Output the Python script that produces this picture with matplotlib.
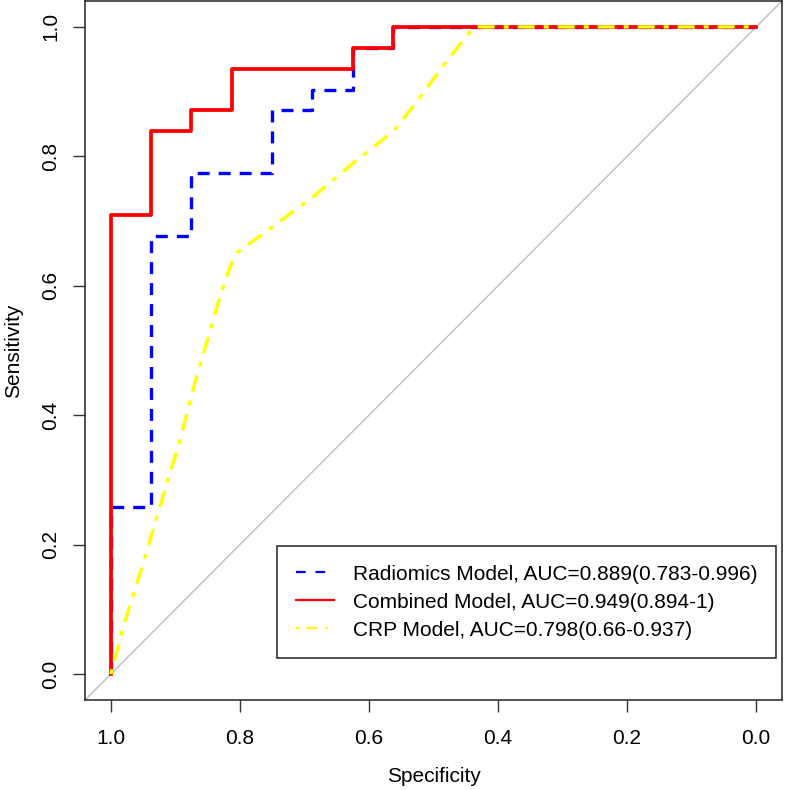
import numpy as np
import matplotlib
matplotlib.use("Agg")
import matplotlib.pyplot as plt
from matplotlib.lines import Line2D

plt.rcParams['font.family'] = ['Liberation Sans', 'DejaVu Sans']
plt.rcParams['font.size'] = 15
plt.rcParams['lines.scale_dashes'] = False

# ROC coordinates (specificity, sensitivity)
radiomics_spec = [1.0, 1.0, 0.9375, 0.9375, 0.875, 0.875, 0.75, 0.75,
                  0.6875, 0.6875, 0.625, 0.625, 0.5625, 0.5625, 0.0]
radiomics_sens = [0.0, 0.258, 0.258, 0.677, 0.677, 0.774, 0.774, 0.871,
                  0.871, 0.903, 0.903, 0.968, 0.968, 1.0, 1.0]

combined_spec = [1.0, 1.0, 0.9375, 0.9375, 0.875, 0.875, 0.8125, 0.8125,
                 0.625, 0.625, 0.5625, 0.5625, 0.0]
combined_sens = [0.0, 0.710, 0.710, 0.839, 0.839, 0.871, 0.871, 0.935,
                 0.935, 0.968, 0.968, 1.0, 1.0]

crp_spec = [1.0, 0.981, 0.952, 0.929, 0.893, 0.870, 0.849, 0.831, 0.815,
            0.805, 0.748, 0.686, 0.624, 0.562, 0.531, 0.485, 0.4375, 0.0]
crp_sens = [0.0, 0.072, 0.165, 0.242, 0.361, 0.449, 0.521, 0.583, 0.630,
            0.651, 0.692, 0.738, 0.790, 0.839, 0.878, 0.940, 1.0, 1.0]

labels = ["Radiomics Model, AUC=0.889(0.783-0.996)",
          "Combined Model, AUC=0.949(0.894-1)",
          "CRP Model, AUC=0.798(0.66-0.937)"]
ticks = [0.0, 0.2, 0.4, 0.6, 0.8, 1.0]

blue_dash = (8.6, 6.5)
yellow_dash = (3.6, 6.5, 12.2, 6.5)

fig = plt.figure(figsize=(7.87, 7.90), dpi=100)
ax = fig.add_axes([85 / 787, 90 / 790, 697 / 787, 699 / 790])

ax.axline((1, 0), (0, 1), color='#BEBEBE', lw=1.0, zorder=1)
ax.plot(radiomics_spec, radiomics_sens, color='#0000FF', lw=2.4,
        dashes=blue_dash, zorder=2)
ax.plot(combined_spec, combined_sens, color='#FF0000', lw=2.7, zorder=3)
ax.plot(crp_spec, crp_sens, color='#FFFF00', lw=2.4,
        dashes=yellow_dash, zorder=4)

ax.set_xlim(1.04, -0.04)
ax.set_ylim(-0.04, 1.04)
ax.set_xticks(ticks)
ax.set_yticks(ticks)
ax.set_xticklabels([f"{t:.1f}" for t in ticks])
ax.set_yticklabels([f"{t:.1f}" for t in ticks], rotation=90, va='center')
ax.tick_params(axis='both', length=8.6, width=1.0, color='#333333')
ax.tick_params(axis='x', pad=12)
ax.tick_params(axis='y', pad=9)
for sp in ax.spines.values():
    sp.set_linewidth(1.1)
    sp.set_color('#222222')

ax.set_xlabel("Specificity", va='center')
ax.xaxis.set_label_coords(0.5, -0.110)
ax.set_ylabel("Sensitivity", va='center')
ax.yaxis.set_label_coords(-0.103, 0.5)

handles = [Line2D([], [], color='#0000FF', lw=1.6, dashes=(7, 7)),
           Line2D([], [], color='#FF0000', lw=1.6),
           Line2D([], [], color='#FFFF00', lw=1.6, dashes=(2.2, 5, 8.6, 5))]
leg = ax.legend(handles, labels, loc='lower right',
                bbox_to_anchor=(0.9914, 0.060), borderaxespad=0,
                fancybox=False, framealpha=1, edgecolor='#222222',
                handlelength=1.85, handletextpad=0.9, borderpad=0.89,
                labelspacing=0.43, fontsize=15)
leg.get_frame().set_linewidth(1.1)

fig.savefig("out.png", dpi=100)
